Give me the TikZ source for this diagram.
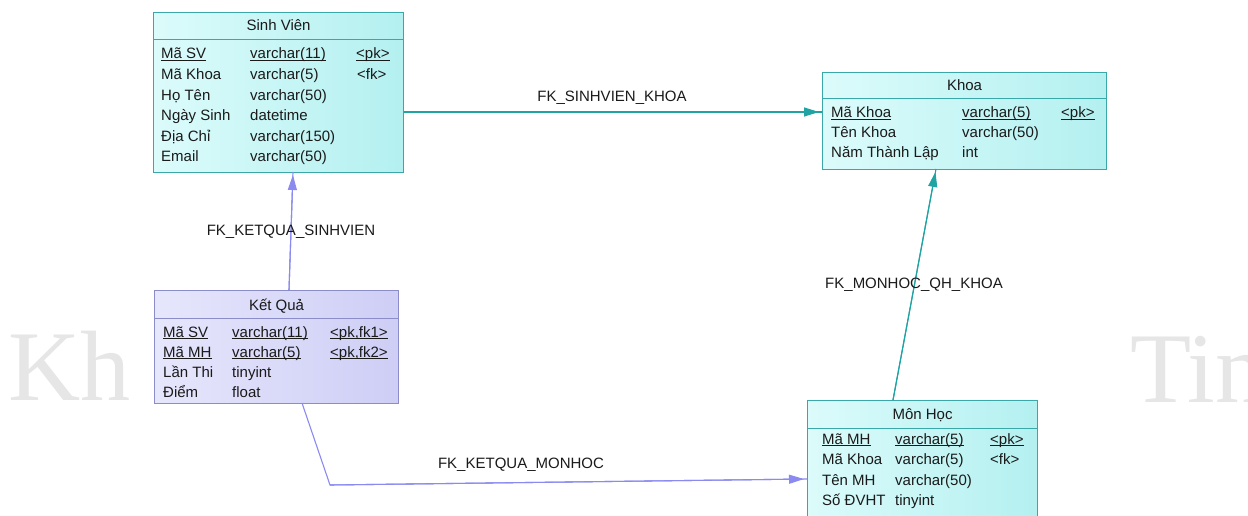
\documentclass[tikz,border=0pt]{standalone}
\usepackage{fontspec}
\setmainfont{Liberation Sans}
\newfontfamily\wmfont{Liberation Serif}
\usetikzlibrary{arrows.meta,calc}
\definecolor{cyborder}{HTML}{3AA8A8}
\definecolor{cyfillL}{HTML}{DCFBFB}
\definecolor{cyfillR}{HTML}{B4F0F0}
\definecolor{puborder}{HTML}{8C8CC8}
\definecolor{pufillL}{HTML}{E6E6FC}
\definecolor{pufillR}{HTML}{CECEF6}
\definecolor{cyline}{HTML}{1FA3A3}
\definecolor{puline}{HTML}{8A8AF0}
\definecolor{wmgray}{HTML}{E6E6E6}
\definecolor{txt}{HTML}{1A1A1A}
\newcommand\pkul[1]{\setbox0\hbox{#1}\rlap{\rule[-2.2pt]{\wd0}{0.8pt}}\box0}
\newcommand\erow[8]{%
  \node[cell] (#1a) at (#3,#2) {#6};
  \node[cell] (#1b) at (#4,#2) {#7};
  \node[cell] (#1c) at (#5,#2) {#8};}
\newcommand\erowb[6]{%
  \node[cell] (#1a) at (#3,#2) {#5};
  \node[cell] (#1b) at (#4,#2) {#6};}
\begin{document}
\begin{tikzpicture}[x=1pt,y=-1pt,
  cybox/.style={draw=cyborder, line width=1.1pt, left color=cyfillL, right color=cyfillR, inner sep=0, anchor=north west},
  pubox/.style={draw=puborder, line width=1.1pt, left color=pufillL, right color=pufillR, inner sep=0, anchor=north west},
  cell/.style={font=\fontsize{15}{18}\selectfont, text=txt, inner sep=0, anchor=base west},
  ttl/.style={font=\fontsize{15}{18}\selectfont, text=txt, inner sep=0, anchor=base},
  lbl/.style={font=\fontsize{15}{18}\selectfont, text=txt, inner sep=0, anchor=base},
  wmark/.style={font=\wmfont\fontsize{100}{100}\selectfont, text=wmgray, inner sep=0, anchor=base west},
  cyconn/.style={draw=cyline, line width=1.1pt},
  puconn/.style={draw=puline, line width=1.1pt},
  cytip/.style={cyconn, -{Triangle[length=15pt,width=9pt]}, fill=cyline, shorten >=3pt},
  putip/.style={puconn, -{Triangle[length=15pt,width=9pt]}, fill=puline, shorten >=3pt}]
\useasboundingbox (0,0) rectangle (1248,516);
\fill[white] (0,0) rectangle (1248,516);
\clip (0,0) rectangle (1248,516);
% watermark
\node[wmark] (wm1) at (8,400) {Kh};
\node[wmark] (wm2) at (1130,402) {Tin};
% boxes
\node[cybox, minimum width=250pt, minimum height=160pt] (sv) at (153,12) {};
\node[cybox, minimum width=284pt, minimum height=97pt] (kh) at (822,72) {};
\node[pubox, minimum width=244pt, minimum height=113pt] (kq) at (154,290) {};
\node[cybox, minimum width=230pt, minimum height=124pt] (mh) at (807,400) {};
% header separators
\draw[cyborder, line width=1pt] (sv.west |- 0,40) -- (sv.east |- 0,40);
\draw[cyborder, line width=1pt] (kh.west |- 0,99) -- (kh.east |- 0,99);
\draw[puborder, line width=1pt] (kq.west |- 0,318) -- (kq.east |- 0,318);
\draw[cyborder, line width=1pt] (mh.west |- 0,428) -- (mh.east |- 0,428);
% titles
\node[ttl] (sv-t) at (sv.north |- 0,31) {Sinh Viên};
\node[ttl] (kh-t) at (kh.north |- 0,91) {Khoa};
\node[ttl] (kq-t) at (kq.north |- 0,310) {Kết Quả};
\node[ttl] (mh-t) at (mh.north |- 0,419) {Môn Học};
% Sinh Vien rows
\erow{sv1}{59}{161}{250}{356}{\pkul{Mã SV}}{\pkul{varchar(11)}}{\pkul{<pk>}}
\erow{sv2}{79.6}{161}{250}{357}{Mã Khoa}{varchar(5)}{<fk>}
\erowb{sv3}{100.2}{161}{250}{Họ Tên}{varchar(50)}
\erowb{sv4}{120.8}{161}{250}{Ngày Sinh}{datetime}
\erowb{sv5}{141.4}{161}{250}{Địa Chỉ}{varchar(150)}
\erowb{sv6}{162}{161}{250}{Email}{varchar(50)}
% Khoa rows
\erow{kh1}{118}{831}{962}{1061}{\pkul{Mã Khoa}}{\pkul{varchar(5)}}{\pkul{<pk>}}
\erowb{kh2}{138}{831}{962}{Tên Khoa}{varchar(50)}
\erowb{kh3}{158}{831}{962}{Năm Thành Lập}{int}
% Ket Qua rows
\erow{kq1}{337}{163}{232}{330}{\pkul{Mã SV}}{\pkul{varchar(11)}}{\pkul{<pk,fk1>}}
\erow{kq2}{357}{163}{232}{330}{\pkul{Mã MH}}{\pkul{varchar(5)}}{\pkul{<pk,fk2>}}
\erowb{kq3}{377}{163}{232}{Lần Thi}{tinyint}
\erowb{kq4}{397}{163}{232}{Điểm}{float}
% Mon Hoc rows
\erow{mh1}{444}{822}{895}{990}{\pkul{Mã MH}}{\pkul{varchar(5)}}{\pkul{<pk>}}
\erow{mh2}{464.5}{822}{895}{990}{Mã Khoa}{varchar(5)}{<fk>}
\erowb{mh3}{485}{822}{895}{Tên MH}{varchar(50)}
\erowb{mh4}{505.5}{822}{895}{Số ĐVHT}{tinyint}
% connector end points
\coordinate (c1s) at (sv.east |- 0,112);
\coordinate (c1e) at (kh.west |- 0,112);
\coordinate (c2s) at (289,290);
\coordinate (c2e) at (293,172);
\coordinate (c3s) at (893,400);
\coordinate (c3e) at (936,169);
\coordinate (c4s) at (302,403);
\coordinate (c4m) at (330,485);
\coordinate (c4e) at (mh.west |- 0,479);
% connectors
\draw[cyconn] (c1s) -- (c1e);
\draw[cytip] (c1s) -- (c1e);
\draw[puconn] (c2s) -- (c2e);
\draw[putip] (c2s) -- (c2e);
\draw[cyconn] (c3s) -- (c3e);
\draw[cytip] (c3s) -- (c3e);
\draw[puconn] (c4s) -- (c4m) -- (c4e);
\draw[putip] (c4m) -- (c4e);
% labels
\node[lbl] (l1) at (612,102) {FK\_SINHVIEN\_KHOA};
\node[lbl] (l2) at (291,235) {FK\_KETQUA\_SINHVIEN};
\node[lbl] (l3) at (914,288) {FK\_MONHOC\_QH\_KHOA};
\node[lbl] (l4) at (521,468) {FK\_KETQUA\_MONHOC};
\end{tikzpicture}
\end{document}
